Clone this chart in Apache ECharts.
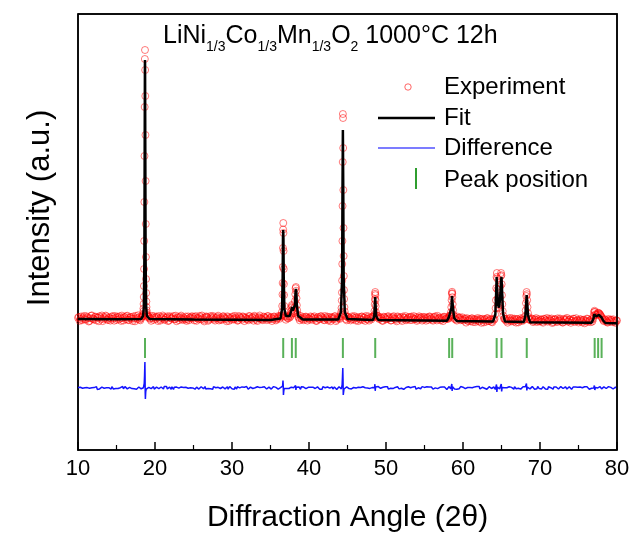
<!DOCTYPE html>
<html><head><meta charset="utf-8">
<script src="https://cdn.jsdelivr.net/npm/echarts/dist/echarts.min.js"></script>
<style>html,body{margin:0;padding:0;background:#fff;overflow:hidden}#c{width:632px;height:536px}</style>
</head><body><div id="c"></div>
<script>
const FONT = '"Liberation Sans", Arial, sans-serif';

// Scan grids for background regions: A = 10.0..80.0, B = 10.1..79.9 (step 0.2)
const angleStartA = 10.0, angleStartB = 10.1, angleStep = 0.2;

// Experimental intensities on background grid A
const expBackgroundA = [
22,-8,35,14,41,3,27,-15,18,46,9,31,-4,25,38,12,-11,29,44,6,20,-6,33,15,40,
1,24,37,-9,19,30,8,43,-2,26,13,36,-13,21,47,5,17,39,28,10,-7,32,16,42,2,
23,34,-10,11,28,45,4,19,37,-5,25,14,40,7,-12,30,21,44,0,16,35,9,-3,27,38,
13,31,-8,22,41,6,18,-14,33,26,2,39,15,29,-6,20,43,10,-1,34,24,8,37,-9,17,
28,5,42,12,-4,31,19,36,-11,23,9,40,14,27,-7,33,1,21,45,11,-2,29,16,38,4,
25,-10,32,18,7,39,13,-5,26,35,3,20,41,10,-8,30,22,6,37,-3,17,28,12,34,-6,
19,36,2,27,14,-9,31,8,40,15,-2,24,33,6,-12,28,18,38,3,21,11,35,-7,26,9,
30,16,-4,37,7,22,29,-10,13,34,1,25,40,9,-6,18,32,4,27,-1,36,12,20,-8,28,
6,33,15,-5,24,38,10,-13,29,17,3,35,21,-3,12,31,26,0,39,8,-9,23,14,30,5,
27,-7,19,34,11,2,28,37,-4,16,25,7,-11,32,20,13,36,-2,22,9,30,-6,17,26,4,
3,15,-26,-6,10,-13,17,0,-21,6,-8,13,-28,-3,9,-17,18,-10,4,-23,1,12,-15,-5,7,
-22,2,14,-9,-27,8,-4,16,-16,-1,11,-24,-7,5,19,-18,0,9,-30,-3,13,-12,3,-20,10,
-10,4,-27,10,-4,-17,13,-8,-30,2,6,-21,-6,15,-13,-25,-1,9,-16,5,-28,-7,11,-11,-3,
-25,6,-11,-1,-33,-16,10,-7,-22,2,-14,-28,5,-4,-31,0,-17,8,-10,-26,-3,4,-21,-8,-29,
-6
];
// Experimental intensities on background grid B
const expBackgroundB = [
30,11,-3,26,8,37,19,-9,42,15,4,33,23,-12,28,45,7,17,36,-1,24,13,39,-7,21,
34,6,16,44,-5,27,38,2,20,31,-10,14,41,9,25,-3,35,18,4,29,43,12,-8,22,37,
10,26,40,-6,17,32,3,24,-11,38,15,28,7,43,19,-2,33,11,26,5,-9,36,21,14,30,
-4,39,16,8,29,45,1,23,35,-8,12,27,41,6,18,32,-5,24,9,38,15,-12,28,20,3,
36,13,25,-7,40,19,4,31,22,11,-3,37,8,26,42,14,-10,29,17,6,34,23,-1,39,12,
27,9,35,-4,18,30,44,5,21,-9,33,16,25,2,38,12,-6,28,19,41,7,-2,31,24,15,
4,29,17,37,-8,22,11,34,26,1,40,13,-5,30,20,8,36,-11,25,16,43,5,27,14,-3,
32,19,7,26,39,-6,15,28,3,35,21,-9,12,37,24,6,31,-2,18,42,10,27,-7,33,20,
9,38,23,-4,30,14,1,36,18,27,-10,21,40,7,25,-1,34,16,11,29,3,37,22,-6,31,
13,26,2,35,20,-7,28,9,41,17,-3,24,32,6,15,38,-9,22,30,11,4,34,19,-2,27,
-6,10,19,-12,3,15,-20,8,-2,20,-15,5,12,-24,1,17,-9,7,-18,14,-4,22,-11,2,9,
16,-19,4,11,-8,21,-13,0,13,-26,6,-5,18,-10,3,24,-16,9,-1,14,-21,7,19,-7,-14,
5,-17,12,-3,20,-9,1,15,-22,8,-12,17,-6,3,-25,11,-2,21,-14,6,-8,13,-19,18,-4,
-12,7,-24,3,-8,14,-18,-2,9,-27,4,-14,12,-6,-20,6,-11,2,-23,10,-16,-1,7,-19,-5
];

// Experimental points across each reflection [2theta, intensity]
const expPeak003 = [[18.40,35],[18.42,48],[18.44,40],[18.46,62],[18.48,85],[18.50,115],[18.52,160],[18.54,230],[18.56,340],[18.58,510],[18.60,790],[18.62,1180],[18.64,1640],[18.66,2130],[18.68,2610],[18.70,2700],[18.72,2500],[18.74,2240],[18.76,1850],[18.78,1390],[18.80,960],[18.82,630],[18.84,410],[18.86,270],[18.88,185],[18.90,130],[18.92,95],[18.94,72],[18.96,55],[18.98,42],[19.00,30]];
const expPeak101 = [[36.40,30],[36.44,45],[36.48,78],[36.52,140],[36.56,255],[36.58,370],[36.60,530],[36.62,720],[36.64,905],[36.66,970],[36.68,870],[36.70,690],[36.72,510],[36.74,360],[36.76,250],[36.80,140],[36.84,82],[36.88,50],[36.92,35]];
const expPeak006102 = [[37.60,38],[37.66,60],[37.70,88],[37.74,122],[37.78,150],[37.82,138],[37.86,108],[37.90,82],[37.96,66],[38.02,72],[38.08,92],[38.14,128],[38.18,188],[38.22,258],[38.26,318],[38.30,330],[38.34,292],[38.38,218],[38.42,148],[38.46,98],[38.52,58],[38.60,32]];
const expPeak104 = [[44.10,38],[44.14,55],[44.18,80],[44.22,120],[44.26,195],[44.28,275],[44.30,395],[44.32,560],[44.34,790],[44.36,1140],[44.38,1580],[44.40,2060],[44.42,2020],[44.44,1720],[44.46,1300],[44.48,920],[44.50,640],[44.52,440],[44.54,300],[44.56,210],[44.60,128],[44.64,85],[44.70,52],[44.76,38]];
const expPeak105 = [[48.40,28],[48.46,48],[48.50,88],[48.54,158],[48.56,210],[48.58,262],[48.60,280],[48.62,248],[48.64,198],[48.66,138],[48.70,78],[48.76,44],[48.82,26]];
const expPeak107 = [[58.10,12],[58.18,30],[58.24,44],[58.30,36],[58.38,46],[58.44,78],[58.48,128],[58.52,198],[58.56,262],[58.58,282],[58.60,268],[58.62,228],[58.66,158],[58.70,98],[58.76,52],[58.84,22]];
const expPeak108110 = [[64.10,10],[64.18,55],[64.24,118],[64.28,198],[64.32,318],[64.36,430],[64.40,470],[64.44,415],[64.48,305],[64.52,215],[64.56,158],[64.60,128],[64.66,118],[64.72,148],[64.78,228],[64.84,338],[64.90,438],[64.94,470],[64.98,448],[65.02,358],[65.06,248],[65.10,158],[65.16,88],[65.24,42],[65.34,12]];
const expPeak113 = [[68.00,5],[68.08,40],[68.14,95],[68.18,168],[68.22,240],[68.26,280],[68.30,258],[68.34,198],[68.38,128],[68.44,68],[68.52,30],[68.60,8]];
const expPeak77 = [[76.80,-15],[76.90,10],[76.96,42],[77.02,78],[77.08,92],[77.14,82],[77.20,58],[77.28,48],[77.36,52],[77.44,58],[77.52,68],[77.60,72],[77.68,66],[77.76,58],[77.84,50],[77.92,40],[78.00,28],[78.10,15],[78.20,0],[78.30,-12]];

// Calculated profile [2theta, intensity]
const fitProfile = [[10.0,10],[15.0,8],[18.2,10],[18.45,40],[18.55,130],[18.62,600],[18.66,1700],[18.69,2550],[18.70,2600],[18.71,2550],[18.74,1700],[18.78,600],[18.85,130],[18.95,40],[19.3,10],[25.0,4],[30.0,2],[35.0,0],[36.3,15],[36.5,110],[36.58,420],[36.62,820],[36.65,900],[36.68,820],[36.72,420],[36.8,110],[37.0,40],[37.5,40],[37.7,95],[37.8,130],[37.9,95],[38.05,75],[38.18,150],[38.25,280],[38.3,310],[38.35,280],[38.42,150],[38.6,40],[39.2,5],[43.8,5],[44.15,80],[44.3,420],[44.35,1300],[44.4,1900],[44.45,1300],[44.5,420],[44.65,80],[45.0,10],[48.3,0],[48.48,40],[48.55,150],[48.6,230],[48.65,150],[48.72,40],[49.0,0],[57.9,-8],[58.15,25],[58.22,40],[58.35,35],[58.5,120],[58.57,240],[58.6,250],[58.64,240],[58.7,120],[58.85,20],[59.2,-10],[63.9,-15],[64.2,55],[64.3,255],[64.37,430],[64.44,300],[64.55,150],[64.68,125],[64.82,215],[64.93,380],[65.0,430],[65.07,300],[65.2,65],[65.45,-15],[67.9,-20],[68.1,45],[68.2,165],[68.27,250],[68.34,165],[68.45,45],[68.7,-22],[76.7,-28],[76.95,15],[77.05,58],[77.1,70],[77.18,45],[77.3,35],[77.5,45],[77.65,52],[77.8,46],[78.0,25],[78.2,-5],[78.5,-30],[80.0,-32]];

// Difference (obs - calc) on background grids A and B
const diffBackgroundA = [
5,-8,12,-3,9,-14,4,16,-6,2,-11,8,14,-4,-9,6,11,-2,-15,7,3,-7,13,-10,1,
10,-5,-12,6,15,-3,8,-9,4,12,-6,-1,9,-13,5,11,-8,2,14,-4,-10,7,3,-7,13,
-2,8,-11,4,10,-6,14,1,-9,6,-4,12,-14,3,9,-7,5,11,-3,-10,7,15,-5,2,-8,
6,-12,9,3,-5,13,-1,8,-10,4,11,-7,2,14,-4,-9,7,1,-13,10,5,-6,12,-2,8,
-7,3,11,-10,6,1,-4,13,8,-12,5,-3,9,15,-8,2,-6,10,4,-11,7,12,-1,-5,9,
3,-9,14,6,-2,-11,8,4,12,-7,1,10,-5,-13,7,2,11,-4,5,-8,13,-1,9,-6,4,
-10,7,2,12,-5,9,-3,-12,6,14,1,-8,10,4,-6,11,-2,8,-14,5,3,-9,13,-4,7,
1,-6,10,-11,5,13,-3,8,2,-9,12,-5,6,-1,9,-13,4,11,-7,3,14,-4,-10,7,2,
-8,12,4,-3,9,-12,6,1,13,-6,-2,10,-9,5,11,-4,3,-11,8,14,-5,2,-7,9,-1,
6,-10,3,11,-5,8,-13,1,12,-3,7,-8,4,10,-6,2,14,-9,5,-2,9,-12,6,13,-4,
8,-3,-11,5,12,-7,2,9,-5,14,1,-10,6,11,-2,-8,4,13,-6,3,10,-12,7,-1,5,
-6,11,3,-9,8,13,-4,1,-12,7,10,-2,5,-8,12,2,-5,9,-11,6,14,-3,4,-7,10,
2,-9,12,-4,6,-13,9,3,-6,11,-1,7,-10,5,13,-5,1,8,-8,12,-2,4,-11,9,6,
-4,10,-7,3,13,-2,8,-12,5,1,11,-6,9,-3,14,-9,4,7,-5,12,-1,6,-10,3,8,
-3
];
const diffBackgroundB = [
-9,7,13,-5,2,-12,10,-3,15,-8,4,11,-14,6,-1,9,-10,14,3,-6,12,-11,5,8,-4,
11,-13,3,9,-7,14,-2,-10,6,1,13,-8,4,-12,10,7,-5,15,-3,-9,2,12,-6,8,-11,
4,13,-7,-2,11,-10,6,15,-4,9,-13,3,8,-6,14,-1,-11,10,5,-8,12,-3,7,-14,1,
12,-4,7,-11,2,9,-8,14,-1,-6,10,5,-13,8,3,-10,13,-5,6,11,-9,1,-12,15,-2,
8,-14,5,12,-3,-9,11,2,-7,14,-12,6,1,-5,10,-11,13,4,-8,7,-2,15,-10,3,-6,
-11,9,-1,6,13,-7,3,-14,10,5,-4,12,-9,8,-2,14,-6,1,11,-13,4,9,-5,-12,7,
13,-3,8,-10,1,11,-6,5,-13,9,3,-8,14,-2,7,-11,10,-4,2,12,-7,6,-14,4,11,
-5,10,-9,3,14,-1,-12,7,5,-7,11,2,-10,13,-4,8,-13,1,9,-6,15,-3,6,-9,12,
3,-11,9,14,-6,4,-2,12,-9,7,10,-13,2,-5,13,6,-8,11,-1,-12,8,4,-7,14,-3,
-8,12,1,-4,10,-11,7,13,-6,3,-9,11,-2,8,-14,5,9,-3,12,-10,2,6,-7,14,-1,
9,-6,13,-12,4,1,-8,11,6,-3,14,-10,7,-1,10,-13,3,12,-5,8,-9,2,13,-4,-11,
5,12,-8,2,-13,9,6,-3,14,-7,1,11,-11,4,-5,13,8,-2,-9,10,3,-12,7,15,-6,
-7,4,11,-9,2,13,-4,8,-12,6,10,-1,-8,14,3,-6,12,-10,5,1,-13,9,-3,11,7,
10,-5,2,-11,8,12,-7,4,-2,13,-9,6,1,-12,9,-4,11,3,-8,14,-6,5,-10,2,7
];
const diffPeak003 = [[18.50,3],[18.56,12],[18.60,45],[18.64,120],[18.67,210],[18.69,260],[18.71,130],[18.73,-50],[18.75,-110],[18.77,-80],[18.80,-35],[18.86,-12],[18.92,2]];
const diffPeak101 = [[36.50,2],[36.57,18],[36.62,75],[36.65,35],[36.68,-70],[36.72,-35],[36.78,-5],[36.86,4]];
const diffPeak102 = [[38.18,-4],[38.26,25],[38.30,-20],[38.36,8]];
const diffPeak104 = [[44.22,4],[44.30,30],[44.35,120],[44.39,200],[44.42,90],[44.45,-70],[44.49,-45],[44.55,-10],[44.62,3]];
const diffPeak105 = [[48.50,2],[48.56,38],[48.60,-28],[48.65,10],[48.70,0]];
const diffPeak107 = [[58.48,0],[58.55,40],[58.59,-30],[58.64,12],[58.70,-2]];
const diffPeak108110 = [[64.28,-3],[64.35,35],[64.40,-40],[64.46,10],[64.60,6],[64.75,-8],[64.92,-5],[64.97,40],[65.02,-35],[65.08,5]];
const diffPeak113 = [[68.18,2],[68.24,45],[68.29,-25],[68.35,8],[68.42,-3]];
const diffPeak77 = [[76.98,0],[77.06,25],[77.12,-20],[77.20,6]];
const diffOffset = -680;   // display offset of the difference curve

// Bragg reflection positions
const peakPositions = [18.70, 36.65, 37.78, 38.28, 44.40, 48.60, 58.20, 58.60, 64.37, 65.00, 68.28, 77.10, 77.55, 78.00];
const peakMarkLevel = -280;

// Axes
const xMin = 10, xMax = 80, xInterval = 10;
const yMin = -1300, yMax = 3060;

const expPeaks = [expPeak003, expPeak101, expPeak006102, expPeak104, expPeak105, expPeak107, expPeak108110, expPeak113, expPeak77];
const diffPeaks = [diffPeak003, diffPeak101, diffPeak102, diffPeak104, diffPeak105, diffPeak107, diffPeak108110, diffPeak113, diffPeak77];

function inWindow(a, segs) {
  return segs.some(s => a >= s[0][0] - 1e-6 && a <= s[s.length - 1][0] + 1e-6);
}
function gridPoints(values, start, segs, offset) {
  const out = [];
  values.forEach((v, i) => {
    const a = +(start + i * angleStep).toFixed(2);
    if (!inWindow(a, segs)) out.push([a, v + offset]);
  });
  return out;
}
const expData = gridPoints(expBackgroundA, angleStartA, expPeaks, 0)
  .concat(gridPoints(expBackgroundB, angleStartB, expPeaks, 0));
expPeaks.forEach(s => s.forEach(p => expData.push(p)));

const diffData = gridPoints(diffBackgroundA, angleStartA, diffPeaks, diffOffset)
  .concat(gridPoints(diffBackgroundB, angleStartB, diffPeaks, diffOffset));
diffPeaks.forEach(s => s.forEach(p => diffData.push([p[0], p[1] + diffOffset])));
diffData.sort((p, q) => p[0] - q[0]);

const markData = peakPositions.map(a => [a, peakMarkLevel]);

const axisLineStyle = { color: '#000', width: 1.5 };
const chart = echarts.init(document.getElementById('c'), null, {renderer: 'canvas'});
chart.setOption({
  animation: false,
  backgroundColor: '#fff',
  title: {
    text: 'LiNi{s|1/3}Co{s|1/3}Mn{s|1/3}O{s|2} 1000°C 12h',
    left: 163, top: 18, padding: 0,
    textStyle: {
      fontFamily: FONT, fontSize: 25, fontWeight: 'normal', color: '#000', lineHeight: 36,
      rich: { s: { fontFamily: FONT, fontSize: 14, color: '#000', lineHeight: 12, verticalAlign: 'bottom' } }
    }
  },
  grid: { left: 78, right: 15, top: 14, bottom: 86, show: true, borderColor: '#000', borderWidth: 1.5, backgroundColor: 'rgba(0,0,0,0)', outerBoundsMode: 'none', containLabel: false },
  xAxis: {
    type: 'value', min: xMin, max: xMax, interval: xInterval,
    axisLine: { show: true, onZero: false, lineStyle: axisLineStyle },
    axisTick: { show: true, inside: true, length: 8, lineStyle: { color: '#000', width: 1.5 } },
    minorTick: { show: true, splitNumber: 2, length: 5, lineStyle: { color: '#000', width: 1.2 } },
    axisLabel: { fontFamily: FONT, fontSize: 22, color: '#000', margin: 8 },
    splitLine: { show: false },
    name: 'Diffraction Angle (2θ)', nameLocation: 'middle', nameGap: 53,
    nameTextStyle: { fontFamily: FONT, fontSize: 30, color: '#000' }
  },
  yAxis: {
    type: 'value', min: yMin, max: yMax,
    axisLine: { show: true, onZero: false, lineStyle: axisLineStyle },
    axisTick: { show: false }, axisLabel: { show: false }, splitLine: { show: false }
  },
  series: [
    { name: 'Experiment', type: 'scatter', data: expData, symbol: 'circle', symbolSize: 7,
      itemStyle: { color: 'rgba(0,0,0,0)', borderColor: 'rgba(255,0,0,0.65)', borderWidth: 1 }, z: 2 },
    { name: 'Fit', type: 'line', data: fitProfile, showSymbol: false, symbol: 'none',
      lineStyle: { color: '#000', width: 2.5 }, z: 3 },
    { name: 'Difference', type: 'line', data: diffData, showSymbol: false, symbol: 'none',
      lineStyle: { color: '#1414ff', width: 1.5 }, z: 3 },
    { name: 'Peak position', type: 'scatter', data: markData, symbol: 'rect', symbolSize: [2, 20],
      itemStyle: { color: '#2f9e2f' }, z: 3 },
    { name: 'frame', type: 'custom', silent: true, clip: false, z: 20,
      data: [[xMin, yMin, xMax, yMax]],
      renderItem: function (params, api) {
        const a = api.coord([api.value(0), api.value(3)]);
        const b = api.coord([api.value(2), api.value(1)]);
        return { type: 'polyline', shape: { points: [[a[0], a[1]], [b[0], a[1]], [b[0], b[1]]] },
                 style: { fill: null, stroke: '#000', lineWidth: 1.5 } };
      } }
  ],
  graphic: [
    { type: 'circle', shape: { cx: 408, cy: 87, r: 3.2 }, style: { fill: 'none', stroke: 'rgba(255,0,0,0.6)', lineWidth: 1 }, z: 10 },
    { type: 'text', x: 444, y: 87, style: { text: 'Experiment', font: '24px ' + FONT, fill: '#000', align: 'left', verticalAlign: 'middle' }, z: 10 },
    { type: 'line', shape: { x1: 378, y1: 118, x2: 435, y2: 118 }, style: { stroke: '#000', lineWidth: 2.5 }, z: 10 },
    { type: 'text', x: 444, y: 118, style: { text: 'Fit', font: '24px ' + FONT, fill: '#000', align: 'left', verticalAlign: 'middle' }, z: 10 },
    { type: 'line', shape: { x1: 378, y1: 148, x2: 435, y2: 148 }, style: { stroke: '#7c7cff', lineWidth: 2 }, z: 10 },
    { type: 'text', x: 444, y: 148, style: { text: 'Difference', font: '24px ' + FONT, fill: '#000', align: 'left', verticalAlign: 'middle' }, z: 10 },
    { type: 'line', shape: { x1: 416, y1: 168, x2: 416, y2: 189 }, style: { stroke: '#2f9e2f', lineWidth: 2 }, z: 10 },
    { type: 'text', x: 444, y: 180, style: { text: 'Peak position', font: '24px ' + FONT, fill: '#000', align: 'left', verticalAlign: 'middle' }, z: 10 },
    { type: 'text', x: 40, y: 208, rotation: Math.PI / 2, style: { text: 'Intensity (a.u.)', font: '31px ' + FONT, fill: '#000', align: 'center', verticalAlign: 'middle' }, z: 10 }
  ]
});
</script>
</body></html>
